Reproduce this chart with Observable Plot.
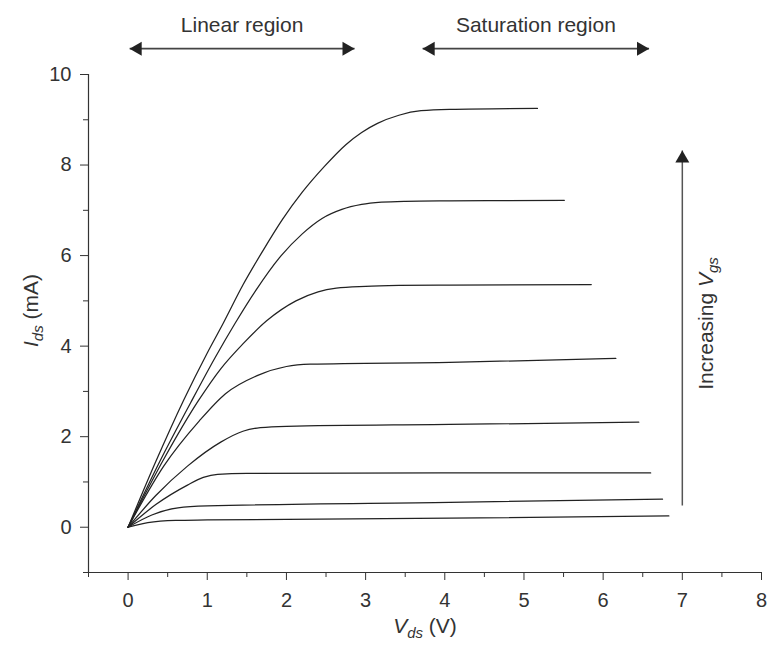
<!DOCTYPE html>
<html>
<head>
<meta charset="utf-8">
<script src="https://cdn.jsdelivr.net/npm/d3@7"></script>
<script src="https://cdn.jsdelivr.net/npm/@observablehq/plot@0.6"></script>
<style>
  html, body { margin: 0; padding: 0; background: #fff; }
</style>
</head>
<body>
<div id="chart"></div>
<script>
// ---- Data ----
const curveNames = ["A", "B", "C", "D", "E", "F", "G", "H"];
const vdsA = [0, 0.35, 0.70, 1.00, 1.20, 1.45, 1.70, 1.95, 2.20, 2.48, 2.75, 2.95, 3.15, 3.42, 3.70, 4.06, 5.17];
const idsA = [0, 1.45, 2.80, 3.85, 4.50, 5.35, 6.10, 6.80, 7.40, 7.97, 8.45, 8.72, 8.92, 9.10, 9.20, 9.23, 9.25];
const vdsB = [0, 0.40, 0.79, 1.10, 1.35, 1.62, 1.91, 2.20, 2.45, 2.70, 2.95, 3.20, 3.50, 4.06, 5.51];
const idsB = [0, 1.45, 2.75, 3.75, 4.50, 5.25, 5.95, 6.48, 6.82, 7.02, 7.13, 7.18, 7.20, 7.21, 7.22];
const vdsC = [0, 0.45, 0.89, 1.17, 1.45, 1.75, 2.12, 2.40, 2.63, 3.00, 3.42, 4.06, 5.85];
const idsC = [0, 1.50, 2.80, 3.50, 4.05, 4.56, 5.00, 5.20, 5.28, 5.32, 5.34, 5.35, 5.36];
const vdsD = [0, 0.45, 0.90, 1.23, 1.63, 2.00, 2.30, 4.06, 6.16];
const idsD = [0, 1.35, 2.35, 2.95, 3.35, 3.55, 3.60, 3.64, 3.73];
const vdsE = [0, 0.35, 0.75, 1.17, 1.45, 1.67, 2.00, 4.06, 6.45];
const idsE = [0, 0.70, 1.35, 1.88, 2.12, 2.20, 2.23, 2.27, 2.32];
const vdsF = [0, 0.35, 0.75, 0.95, 1.13, 1.50, 4.06, 6.60];
const idsF = [0, 0.50, 0.93, 1.10, 1.17, 1.19, 1.20, 1.20];
const vdsG = [0, 0.30, 0.63, 1.00, 4.06, 6.75];
const idsG = [0, 0.27, 0.43, 0.47, 0.55, 0.62];
const vdsH = [0, 0.25, 0.60, 1.00, 4.06, 6.83];
const idsH = [0, 0.10, 0.15, 0.16, 0.20, 0.25];

const xMajorTicks = [0, 1, 2, 3, 4, 5, 6, 7, 8];
const xMinorTicks = [-0.5, 0.5, 1.5, 2.5, 3.5, 4.5, 5.5, 6.5, 7.5];
const yMajorTicks = [0, 2, 4, 6, 8, 10];
const yMinorTicks = [-1, 1, 3, 5, 7, 9];

// Annotations (data coordinates)
const regionLabels = ["Linear region", "Saturation region"];
const regionX1 = [0.02, 3.72];
const regionX2 = [2.86, 6.58];
const regionArrowY = 10.57;
const regionTextY = 11.08;
const vgsArrowX = 7.0;
const vgsArrowY1 = 0.48;
const vgsArrowY2 = 8.32;
const vgsTextX = 7.3;
const vgsTextY = 4.5;

// ---- Build tables ----
const curveX = {A: vdsA, B: vdsB, C: vdsC, D: vdsD, E: vdsE, F: vdsF, G: vdsG, H: vdsH};
const curveY = {A: idsA, B: idsB, C: idsC, D: idsD, E: idsE, F: idsF, G: idsG, H: idsH};
const rows = curveNames.flatMap(c => curveX[c].map((v, i) => ({curve: c, vds: v, ids: curveY[c][i]})));
const regions = regionLabels.map((t, i) => ({label: t, x1: regionX1[i], x2: regionX2[i], xm: (regionX1[i] + regionX2[i]) / 2}));

const ink = "#222";
const tri = 5.2; // arrow head radius
const tipOff = 8;

const plot = Plot.plot({
  width: 769,
  height: 648,
  marginLeft: 88,
  marginRight: 8,
  marginTop: 74,
  marginBottom: 76,
  x: {domain: [-0.5, 8], label: null},
  y: {domain: [-1, 10], label: null},
  style: {fontFamily: "'Liberation Sans', Arial, Helvetica, sans-serif", fontSize: "20px", color: "#333", background: "#fff", overflow: "visible"},
  marks: [
    // axis lines
    Plot.ruleY([-1], {x1: -0.5, x2: 8, stroke: "#333", strokeWidth: 1.2}),
    Plot.ruleX([-0.5], {y1: -1, y2: 10, stroke: "#333", strokeWidth: 1.2}),
    // ticks
    Plot.axisX({ticks: xMajorTicks, tickSize: 8, tickPadding: 12, label: null, fontSize: 20, stroke: "#333"}),
    Plot.axisX({ticks: xMinorTicks, tickSize: 5, tickFormat: () => "", label: null, stroke: "#333"}),
    Plot.axisY({ticks: yMajorTicks, tickSize: 8, tickPadding: 9, label: null, fontSize: 20, stroke: "#333"}),
    Plot.axisY({ticks: yMinorTicks, tickSize: 5, tickFormat: () => "", label: null, stroke: "#333"}),
    // curves
    Plot.line(rows, {x: "vds", y: "ids", z: "curve", curve: "monotone-x", stroke: "#222", strokeWidth: 1.25}),
    // region arrows
    Plot.link(regions, {x1: "x1", x2: "x2", y1: regionArrowY, y2: regionArrowY, stroke: "#444", strokeWidth: 1.8}),
    Plot.dot(regions, {x: "x1", y: regionArrowY, symbol: "triangle", r: tri, fill: ink, stroke: "none", rotate: -90, dx: tipOff}),
    Plot.dot(regions, {x: "x2", y: regionArrowY, symbol: "triangle", r: tri, fill: ink, stroke: "none", rotate: 90, dx: -tipOff}),
    Plot.text(regions, {x: "xm", y: regionTextY, text: "label", fontSize: 21, fill: "#333"}),
    // Vgs arrow
    Plot.link([0], {x1: vgsArrowX, x2: vgsArrowX, y1: vgsArrowY1, y2: vgsArrowY2, stroke: "#555", strokeWidth: 1.5}),
    Plot.dot([0], {x: vgsArrowX, y: vgsArrowY2, symbol: "triangle", r: tri, fill: ink, stroke: "none", dy: tipOff}),
    Plot.text([0], {x: vgsTextX, y: vgsTextY, text: () => "Increasing Vgs", rotate: -90, textAnchor: "middle", fontSize: 21, fill: "#333", className: "vgslab"}),
    // axis titles
    Plot.text([0], {frameAnchor: "bottom", dy: 60, textAnchor: "middle", text: () => "Vds (V)", fontSize: 21, fill: "#333", className: "xlab"}),
    Plot.text([0], {frameAnchor: "left", dx: -57, dy: -13, rotate: -90, textAnchor: "middle", text: () => "Ids (mA)", fontSize: 21, fill: "#333", className: "ylab"})
  ]
});

document.getElementById("chart").appendChild(plot);

// subscripts / italics for the titles
const svg = d3.select(plot);
svg.select("g.xlab text").html('<tspan font-style="italic">V</tspan><tspan font-style="italic" font-size="15" dy="5">ds</tspan><tspan dy="-5"> (V)</tspan>');
svg.select("g.ylab text").html('<tspan font-style="italic">I</tspan><tspan font-style="italic" font-size="15" dy="5">ds</tspan><tspan dy="-5"> (mA)</tspan>');
svg.select("g.vgslab text").html('<tspan>Increasing </tspan><tspan font-style="italic">V</tspan><tspan font-style="italic" font-size="15" dy="5">gs</tspan>');
</script>
</body>
</html>
